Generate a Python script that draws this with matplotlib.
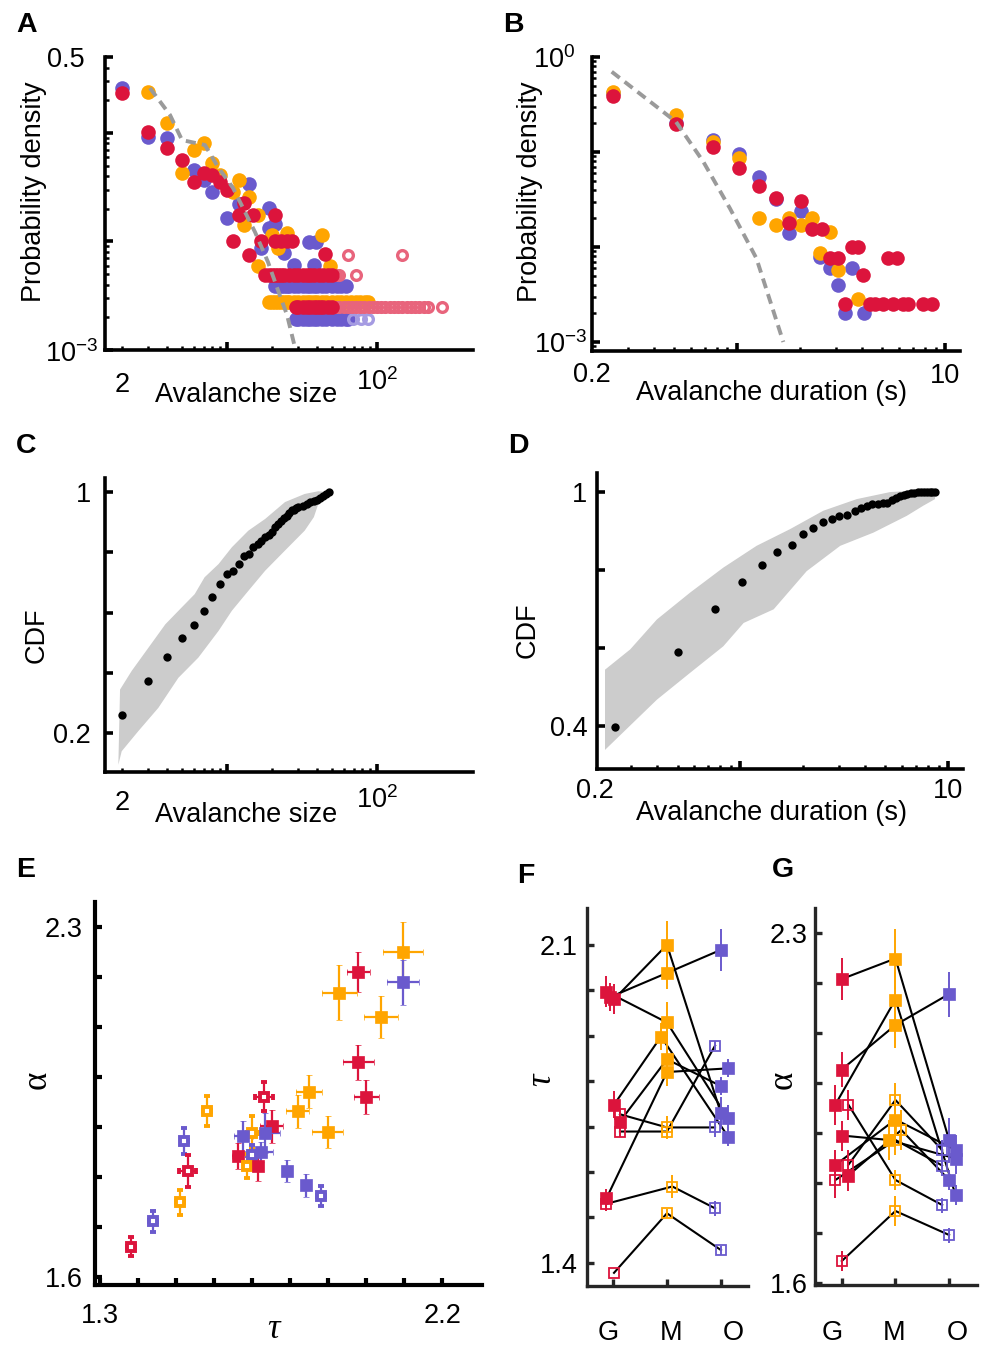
import numpy as np
import matplotlib
matplotlib.use('Agg')
import matplotlib.pyplot as plt
from matplotlib.ticker import FixedLocator, NullFormatter, LogLocator
from matplotlib.transforms import blended_transform_factory

plt.rcParams['font.family'] = ['Liberation Sans', 'DejaVu Sans']
plt.rcParams['mathtext.fontset'] = 'custom'
plt.rcParams['mathtext.rm'] = 'Liberation Sans'
plt.rcParams['mathtext.default'] = 'rm'

RED = '#DC143C'
ORANGE = '#FFA500'
BLUE = '#6A5ACD'
PINK = '#E8647C'
LILAC = '#A59BE2'
GREY = '#9A9A9A'
BAND = '#CCCCCC'
GCOL = {'G': RED, 'M': ORANGE, 'O': BLUE}

W, H = 982, 1346
FS = 19.5

# ---------------- panel A : avalanche size distributions
A_blue_s = [2, 3, 4, 6, 7, 8, 10, 12, 14, 19, 19, 21, 17, 24, 28, 35, 39, 38]
A_blue_p = [0.257, 0.092, 0.089, 0.0454, 0.0366, 0.0287, 0.0163, 0.0223, 0.0337, 0.0205,
            0.0132, 0.0146, 0.0087, 0.0078, 0.0061, 0.0099, 0.0099, 0.0061]
A_blue_row_s = [21, 22, 23, 24, 25, 26, 28, 30, 32, 34, 36, 38, 40, 43, 46, 50, 54, 58, 62]
A_blue_row_p = 0.0039
A_blue_low_s = [29, 30, 32, 34, 36, 38, 40, 43, 46, 50, 54, 58, 62, 64]
A_blue_low_p = 0.00192
A_blue_open_s = [69, 78, 87]

A_orange_s = [3, 4, 5, 6, 7, 8, 9, 11, 12, 13, 14, 16, 20, 22, 25, 16, 43, 49]
A_orange_p = [0.239, 0.1245, 0.0424, 0.069, 0.080, 0.0524, 0.0408, 0.0287, 0.0367, 0.0142,
              0.0258, 0.0175, 0.0115, 0.0087, 0.012, 0.0060, 0.0115, 0.0060]
A_orange_row_s = [19, 20, 21, 22, 23, 24, 25, 26, 28, 30, 32, 34, 36, 38, 40, 43, 46, 50,
                  54, 58, 62, 67, 72, 77, 83, 87]
A_orange_row_p = 0.00278

A_red_s = [2, 3, 4, 5, 6, 7, 8, 9, 10, 11, 12, 13, 14, 15, 17, 21, 21, 23, 25, 27, 45]
A_red_p = [0.234, 0.1025, 0.072, 0.0567, 0.0355, 0.0424, 0.0408, 0.0355, 0.0298, 0.010,
           0.0175, 0.0224, 0.0075, 0.0175, 0.010, 0.0175, 0.010, 0.010, 0.010, 0.010, 0.0077]
A_red_row_s = [18, 19, 20, 21, 22, 23, 24, 26, 28, 30, 32, 34, 36, 38, 41, 44, 47, 50]
A_red_row_p = 0.0049
A_red_low_s = [29, 30, 32, 34, 36, 38, 40, 42, 44, 47, 50]
A_red_low_p = 0.00247
A_red_open_s = [53, 56, 64, 73, 146]
A_red_open_p = [0.0049, 0.0049, 0.0075, 0.0049, 0.0075]
A_red_open_low_s = [53, 56, 60, 64, 68, 72, 77, 82, 88, 94, 100, 107, 114, 122, 130, 139,
                    148, 158, 168, 180, 192, 205, 218, 270]

A_fit_s = [3.07, 4.18, 5.02, 7.14, 8.73, 11.0, 15.4, 18.8, 21.9, 25.2, 28.4]
A_fit_p = [0.259, 0.146, 0.0859, 0.0773, 0.0484, 0.031, 0.0122, 0.00645, 0.00356, 0.00209, 0.00106]

# ---------------- panel B : avalanche duration distributions
B_blue_t = [0.254, 0.509, 0.764, 1.02, 1.276, 1.535, 2.04, 1.78, 2.51, 2.80, 3.07, 3.57, 3.31, 4.07]
B_blue_p = [0.414, 0.204, 0.134, 0.0945, 0.055, 0.032, 0.0239, 0.0139, 0.0079, 0.0060,
            0.00398, 0.00605, 0.0020, 0.0020]
B_orange_t = [0.254, 0.509, 0.764, 1.02, 1.276, 1.535, 1.78, 2.04, 2.29, 2.80, 2.51, 3.07, 3.83]
B_orange_p = [0.431, 0.245, 0.128, 0.0871, 0.0200, 0.0171, 0.0204, 0.0171, 0.0200, 0.0145,
              0.0086, 0.00573, 0.00284]
B_red_t = [0.254, 0.509, 0.764, 1.02, 1.276, 1.535, 2.04, 1.78, 2.29, 2.55, 2.80, 3.07, 3.56,
           3.83, 4.05, 3.31, 4.36, 4.61, 5.05, 5.30, 5.64, 5.86, 6.31, 6.67, 7.87, 8.63]
B_red_p = [0.392, 0.195, 0.114, 0.0684, 0.0439, 0.033, 0.0305, 0.0178, 0.0153, 0.0153, 0.0076,
           0.0076, 0.0101, 0.0101, 0.00507, 0.00251, 0.00251, 0.00251, 0.00251, 0.0076,
           0.00251, 0.0076, 0.00251, 0.00251, 0.00251, 0.00251]
B_fit_t = [0.25, 0.509, 0.689, 0.925, 1.24, 1.67]
B_fit_p = [0.70, 0.208, 0.079, 0.0255, 0.0076, 0.001]

# ---------------- panel C : size CDF
C_s = [2, 3, 4, 5, 6, 7, 8, 9, 10, 11, 12, 13, 14, 15, 16, 17, 18, 19, 20, 21, 22, 23, 24,
       25, 26, 27, 28, 29, 30, 32, 34, 36, 38, 40, 42, 44, 46, 48]
C_cdf = [0.258, 0.372, 0.452, 0.516, 0.557, 0.604, 0.652, 0.694, 0.728, 0.739, 0.761, 0.787,
         0.794, 0.817, 0.828, 0.839, 0.850, 0.858, 0.866, 0.883, 0.893, 0.905, 0.914, 0.922,
         0.931, 0.939, 0.942, 0.946, 0.950, 0.955, 0.961, 0.966, 0.970, 0.975, 0.981, 0.988,
         0.995, 1.0]
C_hi_s = [1.94, 2.32, 3.0, 3.89, 5.0, 6.1, 7.1, 8.8, 10.8, 13.9, 18.0, 24.4, 33.0, 40.7, 46.4]
C_hi = [0.344, 0.406, 0.483, 0.561, 0.617, 0.661, 0.717, 0.761, 0.817, 0.872, 0.911, 0.967,
        0.994, 1.003, 1.0]
C_lo_s = [1.89, 1.99, 2.57, 3.49, 4.75, 6.45, 8.8, 10.8, 13.9, 18.0, 24.4, 33.0, 38.0, 40.7, 45.0]
C_lo = [0.094, 0.139, 0.206, 0.283, 0.383, 0.45, 0.539, 0.606, 0.672, 0.739, 0.806, 0.872,
        0.917, 0.961, 0.989]

# ---------------- panel D : duration CDF
D_t = [0.25, 0.505, 0.758, 1.02, 1.27, 1.50, 1.77, 2.0, 2.23, 2.50, 2.76, 3.0, 3.26, 3.56,
       3.82, 4.07, 4.33, 4.58, 4.84, 5.09, 5.35, 5.60, 5.86, 6.11, 6.36, 6.62, 6.87, 7.13,
       7.38, 7.64, 7.89, 8.15, 8.40, 8.65]
D_cdf = [0.398, 0.589, 0.700, 0.769, 0.812, 0.846, 0.863, 0.893, 0.908, 0.922, 0.932, 0.939,
         0.940, 0.952, 0.960, 0.965, 0.969, 0.970, 0.971, 0.973, 0.980, 0.986, 0.990, 0.993,
         0.995, 0.997, 0.998, 0.999, 0.999, 1.0, 1.0, 1.0, 1.0, 1.0]
D_hi_t = [0.224, 0.296, 0.398, 0.575, 0.83, 1.2, 1.74, 2.51, 3.64, 5.26, 7.6, 8.66]
D_hi = [0.544, 0.596, 0.673, 0.742, 0.806, 0.862, 0.905, 0.952, 0.982, 1.0, 1.005, 1.005]
D_lo_t = [0.224, 0.398, 0.575, 0.83, 1.04, 1.45, 2.09, 3.03, 4.38, 6.33, 7.6, 8.66]
D_lo = [0.338, 0.467, 0.536, 0.604, 0.664, 0.699, 0.797, 0.862, 0.896, 0.939, 0.965, 0.982]

# ---------------- panel E : tau vs alpha
E_group = ['M', 'G', 'O', 'M', 'M', 'G', 'G', 'M', 'M', 'M', 'G', 'G', 'O', 'M', 'O',
           'G', 'O', 'O', 'M', 'G', 'O', 'O', 'O', 'O', 'M', 'G', 'M', 'O', 'G']
E_open = [0, 0, 0, 0, 0, 0, 0, 0, 0, 0, 1, 0, 0, 1, 0, 0, 0, 1, 1, 0, 0, 0, 1, 1, 1, 1, 1, 1, 1]
E_tau = [2.098, 1.980, 2.098, 1.930, 2.039, 1.980, 2.000, 1.850, 1.820, 1.899, 1.732, 1.752,
         1.734, 1.701, 1.677, 1.662, 1.724, 1.701, 1.688, 1.715, 1.791, 1.841, 1.881, 1.522,
         1.582, 1.531, 1.511, 1.440, 1.382]
E_alpha = [2.249, 2.210, 2.189, 2.168, 2.119, 2.030, 1.961, 1.971, 1.932, 1.891, 1.961, 1.902,
           1.889, 1.889, 1.882, 1.842, 1.850, 1.844, 1.822, 1.822, 1.812, 1.784, 1.762, 1.872,
           1.932, 1.812, 1.750, 1.712, 1.661]
E_tau_err = [0.053, 0.030, 0.042, 0.045, 0.045, 0.040, 0.033, 0.033, 0.030, 0.040, 0.024,
             0.030, 0.040, 0.015, 0.025, 0.015, 0.030, 0.015, 0.010, 0.010, 0.010, 0.010,
             0.010, 0.010, 0.010, 0.022, 0.010, 0.010, 0.010]
E_alpha_err = [0.060, 0.040, 0.046, 0.055, 0.042, 0.035, 0.034, 0.033, 0.033, 0.032, 0.029,
               0.033, 0.040, 0.033, 0.030, 0.027, 0.020, 0.020, 0.025, 0.030, 0.022, 0.023,
               0.020, 0.027, 0.030, 0.032, 0.025, 0.021, 0.019]

# ---------------- panel F : tau per subject (G, M, O)
F_G = [1.980, 1.985, 1.997, 1.748, 1.711, 1.542, 1.727, 1.689, 1.530, 1.378]
F_M = [2.100, 2.038, 1.929, 1.898, 1.848, 1.820, 1.698, 1.689, 1.568, 1.509]
F_O = [1.729, 2.089, 1.718, 1.678, 1.789, 1.828, 1.698, 1.878, 1.520, 1.428]
F_xG = [1.02, 0.95, 0.88, 1.02, 1.13, 0.88, 1.13, 1.13, 0.88, 1.02]
F_xM = [2.0, 2.0, 2.0, 1.89, 2.0, 2.0, 2.0, 2.0, 2.1, 2.0]
F_xO = [3.0, 3.0, 3.13, 3.13, 3.0, 3.13, 2.89, 2.89, 2.89, 3.0]
F_errG = [0.033, 0.030, 0.035, 0.030, 0.028, 0.020, 0.012, 0.012, 0.015, 0.0]
F_errM = [0.052, 0.035, 0.045, 0.030, 0.045, 0.030, 0.025, 0.012, 0.025, 0.010]
F_errO = [0.035, 0.046, 0.030, 0.020, 0.020, 0.020, 0.020, 0.010, 0.017, 0.010]
F_openG = [0, 0, 0, 0, 0, 0, 1, 1, 1, 1]
F_openM = [0, 0, 0, 0, 0, 0, 1, 1, 1, 1]
F_openO = [0, 0, 0, 0, 0, 0, 1, 1, 1, 1]

# ---------------- panel G : alpha per subject (G, M, O)
G_G = [2.208, 1.957, 2.027, 1.957, 1.644, 1.895, 1.836, 1.836, 1.815, 1.806]
G_M = [2.249, 2.167, 2.116, 1.806, 1.744, 1.886, 1.927, 1.966, 1.906, 1.886]
G_O = [1.886, 1.776, 2.178, 1.756, 1.696, 1.849, 1.866, 1.866, 1.806, 1.835]
G_xG = [1.0, 0.88, 1.0, 1.12, 1.0, 1.0, 0.88, 1.12, 1.12, 0.88]
G_xM = [2.0, 2.0, 2.0, 2.0, 2.0, 1.88, 2.0, 2.0, 2.11, 2.0]
G_xO = [3.0, 3.12, 3.0, 2.87, 3.0, 3.12, 3.12, 2.87, 3.0, 2.87]
G_errG = [0.042, 0.040, 0.035, 0.030, 0.020, 0.030, 0.030, 0.030, 0.030, 0.035]
G_errM = [0.060, 0.055, 0.045, 0.020, 0.030, 0.040, 0.040, 0.035, 0.040, 0.030]
G_errO = [0.045, 0.020, 0.045, 0.015, 0.015, 0.030, 0.030, 0.020, 0.020, 0.020]
G_openG = [0, 0, 0, 1, 1, 0, 0, 1, 0, 1]
G_openM = [0, 0, 0, 1, 1, 0, 0, 1, 1, 1]
G_openO = [0, 0, 0, 1, 1, 0, 0, 1, 0, 1]


fig = plt.figure(figsize=(W / 100, H / 100), dpi=100)


def box(l, t, r, b):
    return [l / W, 1 - b / H, (r - l) / W, (b - t) / H]


def ftext(x, y, s, **kw):
    kw.setdefault('fontsize', FS)
    fig.text(x / W, 1 - y / H, s, **kw)


def xlab(ax, x, ypx, s):
    tr = blended_transform_factory(ax.transData, fig.transFigure)
    ax.text(x, 1 - ypx / H, s, transform=tr, ha='center', va='baseline', fontsize=FS)


def style(ax, lw=2.6, col='k', major=6, minor=3):
    ax.spines[['top', 'right']].set_visible(False)
    for sp in ['left', 'bottom']:
        ax.spines[sp].set_linewidth(lw)
        ax.spines[sp].set_color(col)
    ax.tick_params(which='major', direction='in', length=major, width=lw, color=col,
                   labelsize=FS)
    ax.tick_params(which='minor', direction='in', length=minor, width=1.8, color=col)
    ax.set_facecolor('none')


dot = dict(ls='none', marker='o', ms=10.5, mec='none', clip_on=False)
ring = dict(ls='none', marker='o', ms=7, mfc='none', mew=2.4, clip_on=False)

# ---- A
axA = fig.add_axes(box(105, 57, 473, 350))
axA.set_xscale('log')
axA.set_yscale('log')
axA.plot(A_blue_row_s, np.full(len(A_blue_row_s), A_blue_row_p), color=BLUE, **dot)
axA.plot(A_blue_low_s, np.full(len(A_blue_low_s), A_blue_low_p), color=BLUE, **dot)
axA.plot(A_blue_s, A_blue_p, color=BLUE, **dot)
axA.plot(A_blue_open_s, np.full(len(A_blue_open_s), A_blue_low_p), mec=LILAC, **ring)
axA.plot(A_orange_row_s, np.full(len(A_orange_row_s), A_orange_row_p), color=ORANGE, **dot)
axA.plot(A_orange_s, A_orange_p, color=ORANGE, **dot)
axA.plot(A_red_open_low_s, np.full(len(A_red_open_low_s), A_red_low_p), mec=PINK, **ring)
axA.plot(A_red_open_s, A_red_open_p, mec=PINK, **ring)
axA.plot(A_red_row_s, np.full(len(A_red_row_s), A_red_row_p), color=RED, **dot)
axA.plot(A_red_low_s, np.full(len(A_red_low_s), A_red_low_p), color=RED, **dot)
axA.plot(A_red_s, A_red_p, color=RED, **dot)
axA.plot(A_fit_s, A_fit_p, color=GREY, lw=2.8, dashes=(2.6, 1.6), zorder=5)
axA.set_xlim(1.54, 437)
axA.set_ylim(1e-3, 0.5)
style(axA)
axA.xaxis.set_major_locator(FixedLocator([10, 100]))
axA.xaxis.set_minor_locator(FixedLocator([2, 3, 4, 5, 6, 7, 8, 9, 20, 30, 40, 50, 60, 70, 80, 90]))
axA.yaxis.set_major_locator(FixedLocator([1e-3, 1e-2, 1e-1, 0.5]))
axA.yaxis.set_minor_locator(LogLocator(subs=np.arange(2, 10)))
axA.tick_params(labelleft=False, labelbottom=False, which='both')
xlab(axA, 2, 392, '2')
xlab(axA, 100, 390, '$10^2$')
ftext(85, 67, '0.5', ha='right', va='baseline')
ftext(98, 362, '$10^{-3}$', ha='right', va='baseline')
ftext(34, 192, 'Probability density', rotation=90, ha='center', va='center')
ftext(246, 402, 'Avalanche size', ha='center', va='baseline')

# ---- B
axB = fig.add_axes(box(592, 57, 960, 351))
axB.set_xscale('log')
axB.set_yscale('log')
axB.plot(B_blue_t, B_blue_p, color=BLUE, **dot)
axB.plot(B_orange_t, B_orange_p, color=ORANGE, **dot)
axB.plot(B_red_t, B_red_p, color=RED, **dot)
axB.plot(B_fit_t, B_fit_p, color=GREY, lw=2.8, dashes=(2.6, 1.6), zorder=5)
axB.set_xlim(0.201, 11.8)
axB.set_ylim(8.04e-4, 1.0)
style(axB)
axB.xaxis.set_major_locator(FixedLocator([1, 10]))
axB.xaxis.set_minor_locator(FixedLocator([0.3, 0.4, 0.5, 0.6, 0.7, 0.8, 0.9, 2, 3, 4, 5, 6, 7, 8, 9]))
axB.yaxis.set_major_locator(FixedLocator([1e-3, 1e-2, 1e-1, 1.0]))
axB.yaxis.set_minor_locator(LogLocator(subs=np.arange(2, 10)))
axB.tick_params(labelleft=False, labelbottom=False, which='both')
xlab(axB, 0.2, 382, '0.2')
xlab(axB, 10, 383, '10')
ftext(575, 68, '$10^0$', ha='right', va='baseline')
ftext(587, 353, '$10^{-3}$', ha='right', va='baseline')
ftext(530, 192, 'Probability density', rotation=90, ha='center', va='center')
ftext(771, 400, 'Avalanche duration (s)', ha='center', va='baseline')

# ---- C
axC = fig.add_axes(box(105, 478, 473, 772))
axC.set_xscale('log')
axC.fill(C_hi_s + C_lo_s[::-1], C_hi + C_lo[::-1], color=BAND, lw=0)
axC.plot(C_s, C_cdf, ls='none', marker='o', ms=6, color='k', mec='none', clip_on=False)
axC.set_xlim(1.54, 437)
axC.set_ylim(0.070, 1.047)
style(axC)
axC.xaxis.set_major_locator(FixedLocator([10, 100]))
axC.xaxis.set_minor_locator(FixedLocator([2, 3, 4, 5, 6, 7, 8, 9, 20, 30, 40, 50, 60, 70, 80, 90]))
axC.set_yticks([0.2, 0.4, 0.6, 0.8, 1.0], ['0.2', '', '', '', '1'])
axC.tick_params(axis='y', pad=10)
axC.tick_params(labelbottom=False, which='both')
xlab(axC, 2, 810, '2')
xlab(axC, 100, 808, '$10^2$')
ftext(37, 635, 'CDF', rotation=90, ha='center', va='center')
ftext(246, 822, 'Avalanche size', ha='center', va='baseline')

# ---- D
axD = fig.add_axes(box(597, 473, 963, 769))
axD.set_xscale('log')
axD.fill(D_hi_t + D_lo_t[::-1], D_hi + D_lo[::-1], color=BAND, lw=0)
axD.plot(D_t, D_cdf, ls='none', marker='o', ms=6, color='k', mec='none', clip_on=False)
axD.set_xlim(0.205, 11.8)
axD.set_ylim(0.289, 1.049)
style(axD)
axD.xaxis.set_major_locator(FixedLocator([1, 10]))
axD.xaxis.set_minor_locator(FixedLocator([0.3, 0.4, 0.5, 0.6, 0.7, 0.8, 0.9, 2, 3, 4, 5, 6, 7, 8, 9]))
axD.set_yticks([0.4, 0.6, 0.8, 1.0], ['0.4', '', '', '1'])
axD.tick_params(axis='y', pad=7)
axD.tick_params(labelbottom=False, which='both')
xlab(axD, 0.2, 798, '0.2')
xlab(axD, 10, 798, '10')
ftext(528, 630, 'CDF', rotation=90, ha='center', va='center')
ftext(771, 820, 'Avalanche duration (s)', ha='center', va='baseline')

# ---- E
axE = fig.add_axes(box(95, 902, 482, 1285))
for t, a, te, ae, g, op in zip(E_tau, E_alpha, E_tau_err, E_alpha_err, E_group, E_open):
    c = GCOL[g]
    if op:
        mk = dict(marker='s', ms=6, mfc='white', mec=c, mew=2.8)
    else:
        mk = dict(marker='s', ms=8.5, mfc=c, mec=c, mew=0.5)
    axE.errorbar(t, a, xerr=te, yerr=ae, color=c, elinewidth=1.6, capsize=2.2,
                 capthick=1.6, ls='none', **mk)
axE.set_xlim(1.287, 2.305)
axE.set_ylim(1.584, 2.35)
style(axE, lw=3.0, major=5)
axE.set_xticks(np.arange(13, 23) / 10, ['1.3'] + [''] * 8 + ['2.2'])
axE.set_yticks(np.arange(16, 24) / 10, ['1.6'] + [''] * 6 + ['2.3'])
axE.tick_params(axis='x', pad=13)
axE.tick_params(axis='y', pad=9)
ftext(37, 1080, '\u03b1', rotation=90, ha='center', va='center', fontsize=25,
      family='Liberation Serif')
ftext(273, 1330, '\u03c4', ha='center', va='center', fontsize=25,
      family='Liberation Serif', style='italic')


def subject_panel(ax, vals, xs, errs, opens):
    for i in range(len(vals[0])):
        ax.plot([xs[0][i], xs[1][i], xs[2][i]], [vals[0][i], vals[1][i], vals[2][i]],
                color='k', lw=1.5, zorder=2)
    for k, c in enumerate([RED, ORANGE, BLUE]):
        for x, v, e, op in zip(xs[k], vals[k], errs[k], opens[k]):
            if op:
                mk = dict(marker='s', ms=7.5, mfc='none', mec=c, mew=1.3)
            else:
                mk = dict(marker='s', ms=8.2, mfc=c, mec=c, mew=0.5)
            ax.errorbar(x, v, yerr=e if e > 0 else None, color=c, elinewidth=1.4,
                        capsize=0, ls='none', zorder=3, **mk)
    style(ax, lw=2.4, col='#262626', major=5)
    ax.set_xticks([1, 2, 3], ['', '', ''])


# ---- F
axF = fig.add_axes(box(587, 908, 748, 1286))
subject_panel(axF, [F_G, F_M, F_O], [F_xG, F_xM, F_xO], [F_errG, F_errM, F_errO],
              [F_openG, F_openM, F_openO])
axF.set_xlim(0.52, 3.5)
axF.set_ylim(1.349, 2.181)
axF.set_yticks(np.arange(14, 22) / 10, ['1.4'] + [''] * 6 + ['2.1'])
axF.tick_params(axis='y', pad=7)
for xp, lab in zip([608, 671, 733], ['G', 'M', 'O']):
    ftext(xp, 1340, lab, ha='center', va='baseline')
ftext(542, 1080, '\u03c4', rotation=90, ha='center', va='center', fontsize=25,
      family='Liberation Serif', style='italic')

# ---- G
axG = fig.add_axes(box(815, 908, 977, 1285))
subject_panel(axG, [G_G, G_M, G_O], [G_xG, G_xM, G_xO], [G_errG, G_errM, G_errO],
              [G_openG, G_openM, G_openO])
axG.set_xlim(0.5, 3.52)
axG.set_ylim(1.596, 2.35)
axG.set_yticks(np.arange(16, 24) / 10, ['1.6'] + [''] * 6 + ['2.3'])
axG.tick_params(axis='y', pad=5)
for xp, lab in zip([832, 894, 957], ['G', 'M', 'O']):
    ftext(xp, 1340, lab, ha='center', va='baseline')
ftext(783, 1080, '\u03b1', rotation=90, ha='center', va='center', fontsize=25,
      family='Liberation Serif')

# panel letters
for xp, yp, lab in [(16, 32, 'A'), (503, 32, 'B'), (16, 453, 'C'), (508, 453, 'D'),
                    (16, 877, 'E'), (517, 883, 'F'), (772, 877, 'G')]:
    ftext(xp, yp, lab, ha='left', va='baseline', fontsize=20.5, fontweight='bold')

fig.savefig('out.png', dpi=100)
